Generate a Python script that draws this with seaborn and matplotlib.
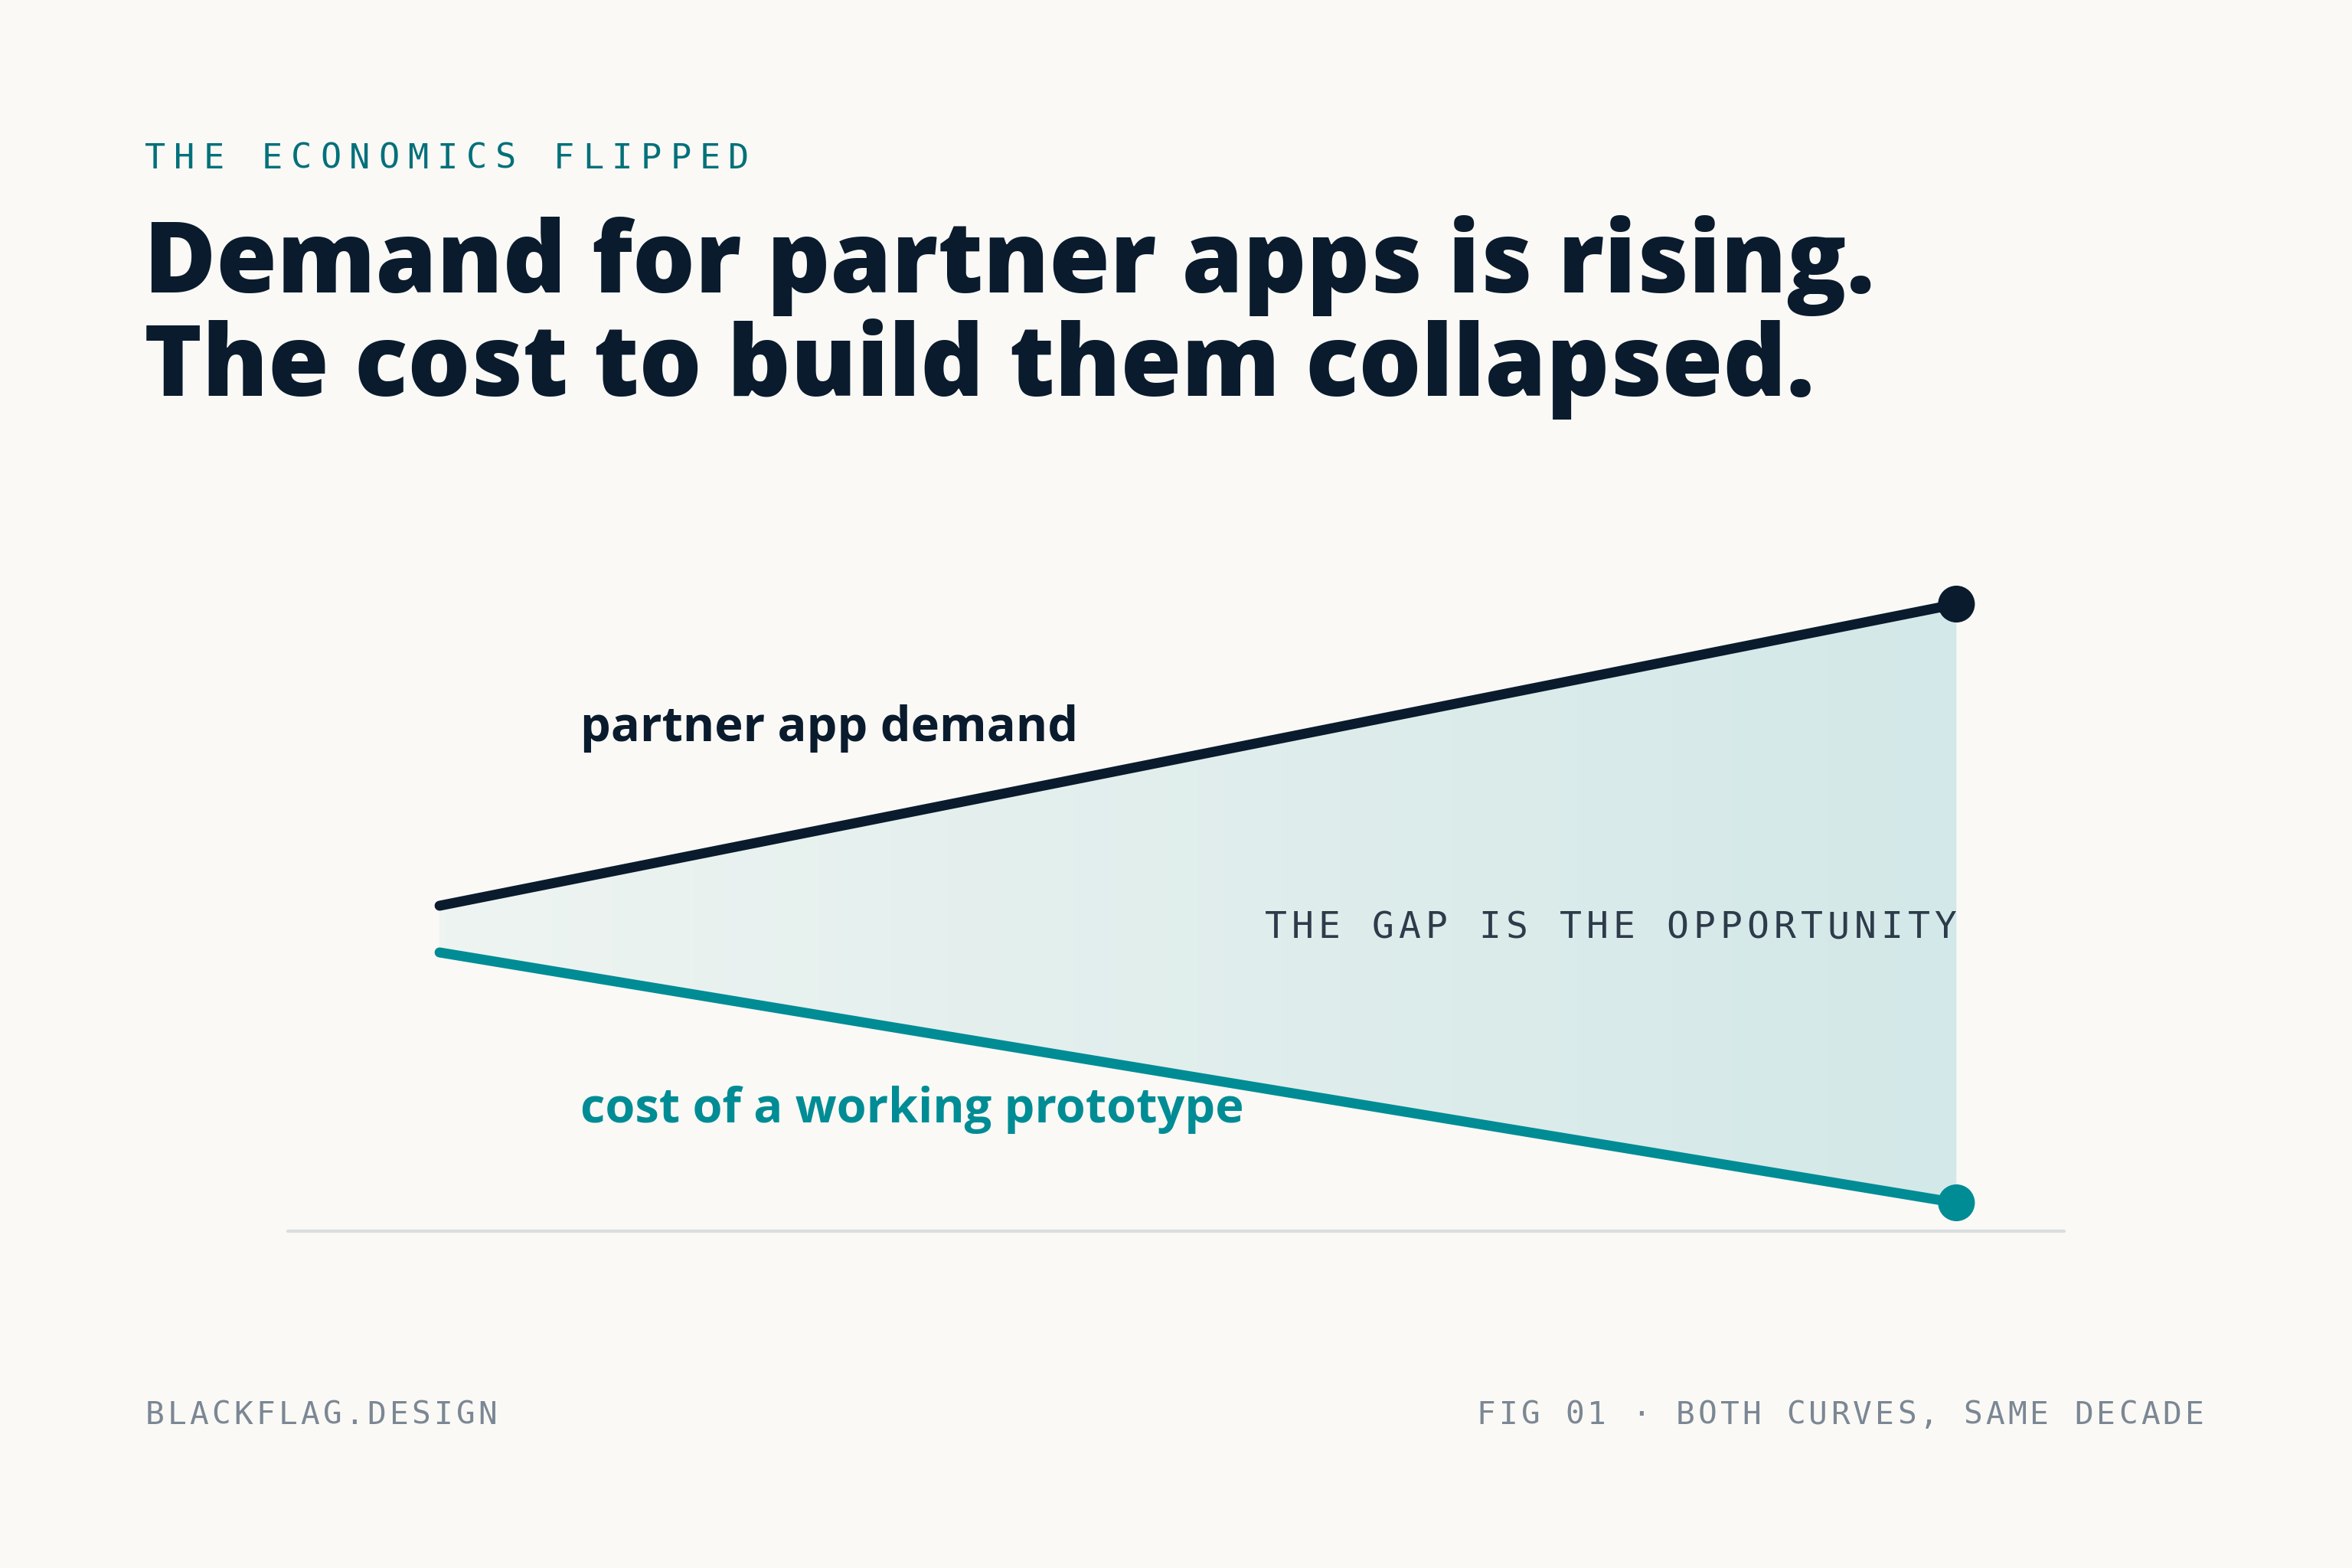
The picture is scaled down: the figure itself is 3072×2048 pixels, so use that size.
#-----------------------------------------------------------------
# Required Python Packages
#-----------------------------------------------------------------
import numpy as np
import pandas as pd
import matplotlib
matplotlib.use("Agg")
import matplotlib.pyplot as plt
import seaborn as sns
from matplotlib.colors import LinearSegmentedColormap

#-----------------------------------------------------------------
# Canvas + colours
#-----------------------------------------------------------------
W, H, DPI = 3072, 2048, 200

BG = "#FAF9F5"
NAVY = "#0A1B2E"
TEAL = "#008C95"
KICKER = "#00707A"
GAP_INK = "#2D3B4A"
FOOT = "#7B8794"
RULE = "#D8DDE0"

#-----------------------------------------------------------------
# Data (index values)
#-----------------------------------------------------------------
years = [2016, 2026]
demand_index = [42.5, 81.9]
cost_index = [36.4, 3.7]

series_names = ["partner app demand", "cost of a working prototype"]
series_colors = [NAVY, TEAL]

kicker_text = "THE ECONOMICS FLIPPED"
title_lines = ["Demand for partner apps is rising.",
               "The cost to build them collapsed."]
gap_text = "THE GAP IS THE OPPORTUNITY"
footer_left = "BLACKFLAG.DESIGN"
footer_right = "FIG 01 \u00b7 BOTH CURVES, SAME DECADE"


def px(x, y):
    """pixel position -> figure fraction"""
    return x / W, 1 - y / H


def tracked_text(fig, x, y, s, step, size, color, ha="left", gw=22):
    """mono text with wide letter spacing, one glyph per cell"""
    n = len(s)
    if ha == "right":
        x = x - gw - (n - 1) * step
    for i, ch in enumerate(s):
        cx = x + gw / 2 + i * step
        fig.text(*px(cx, y), ch, ha="center", va="baseline",
                 family="DejaVu Sans Mono", size=size, color=color)


#-----------------------------------------------------------------
# Figure
#-----------------------------------------------------------------
sns.set_theme(style="white")
plt.rcParams["font.family"] = ["Open Sans", "DejaVu Sans"]

fig = plt.figure(figsize=(W / DPI, H / DPI), dpi=DPI, facecolor=BG)
ax = fig.add_axes([376 / W, 1 - 1608 / H, 2320 / W, 1000 / H])
ax.set_facecolor("none")

# gradient wedge between the two curves
cmap = LinearSegmentedColormap.from_list("gap", ["#EEF4F1", "#D3E8E8"])
poly = ax.fill_between(years, cost_index, demand_index,
                       facecolor="none", edgecolor="none")
grad = np.linspace(0, 1, 256).reshape(1, -1)
im = ax.imshow(grad, extent=[years[0], years[-1], 0, 100], aspect="auto",
               cmap=cmap, origin="lower", zorder=1)
im.set_clip_path(poly.get_paths()[0], transform=ax.transData)

# baseline rule
ax.axhline(0, color=RULE, lw=1.5, zorder=1, clip_on=False)

# the two curves
df = pd.DataFrame({
    "year": years * 2,
    "index": demand_index + cost_index,
    "series": [series_names[0]] * 2 + [series_names[1]] * 2,
})
palette = dict(zip(series_names, series_colors))
sns.lineplot(data=df, x="year", y="index", hue="series", palette=palette,
             lw=4.7, legend=False, ax=ax, zorder=3,
             solid_capstyle="round")

ends = df[df["year"] == years[-1]]
sns.scatterplot(data=ends, x="year", y="index", hue="series", palette=palette,
                s=300, edgecolor="none", legend=False, ax=ax, zorder=4,
                clip_on=False)

ax.set_xlim(2015, 2026.71)
ax.set_ylim(0, 100)
ax.axis("off")

#-----------------------------------------------------------------
# Text
#-----------------------------------------------------------------
tracked_text(fig, 192, 220, kicker_text, 38.1, 16.3, KICKER)

fig.text(*px(188, 382), title_lines[0], ha="left", va="baseline",
         size=46.3, weight="heavy", color=NAVY)
fig.text(*px(188, 517), title_lines[1], ha="left", va="baseline",
         size=46.3, weight="heavy", color=NAVY)

fig.text(*px(758, 968), series_names[0], ha="left", va="baseline",
         size=22.7, weight="bold", color=NAVY)
fig.text(*px(758, 1466), series_names[1], ha="left", va="baseline",
         size=22.7, weight="bold", color=TEAL)

tracked_text(fig, 2553, 1225, gap_text, 35.0, 17.3, GAP_INK, ha="right", gw=24)

tracked_text(fig, 192, 1860, footer_left, 29.0, 14.8, FOOT, gw=20)
tracked_text(fig, 2876, 1860, footer_right, 28.9, 14.8, FOOT, ha="right", gw=20)

fig.savefig("out.png", dpi=DPI, facecolor=BG)
